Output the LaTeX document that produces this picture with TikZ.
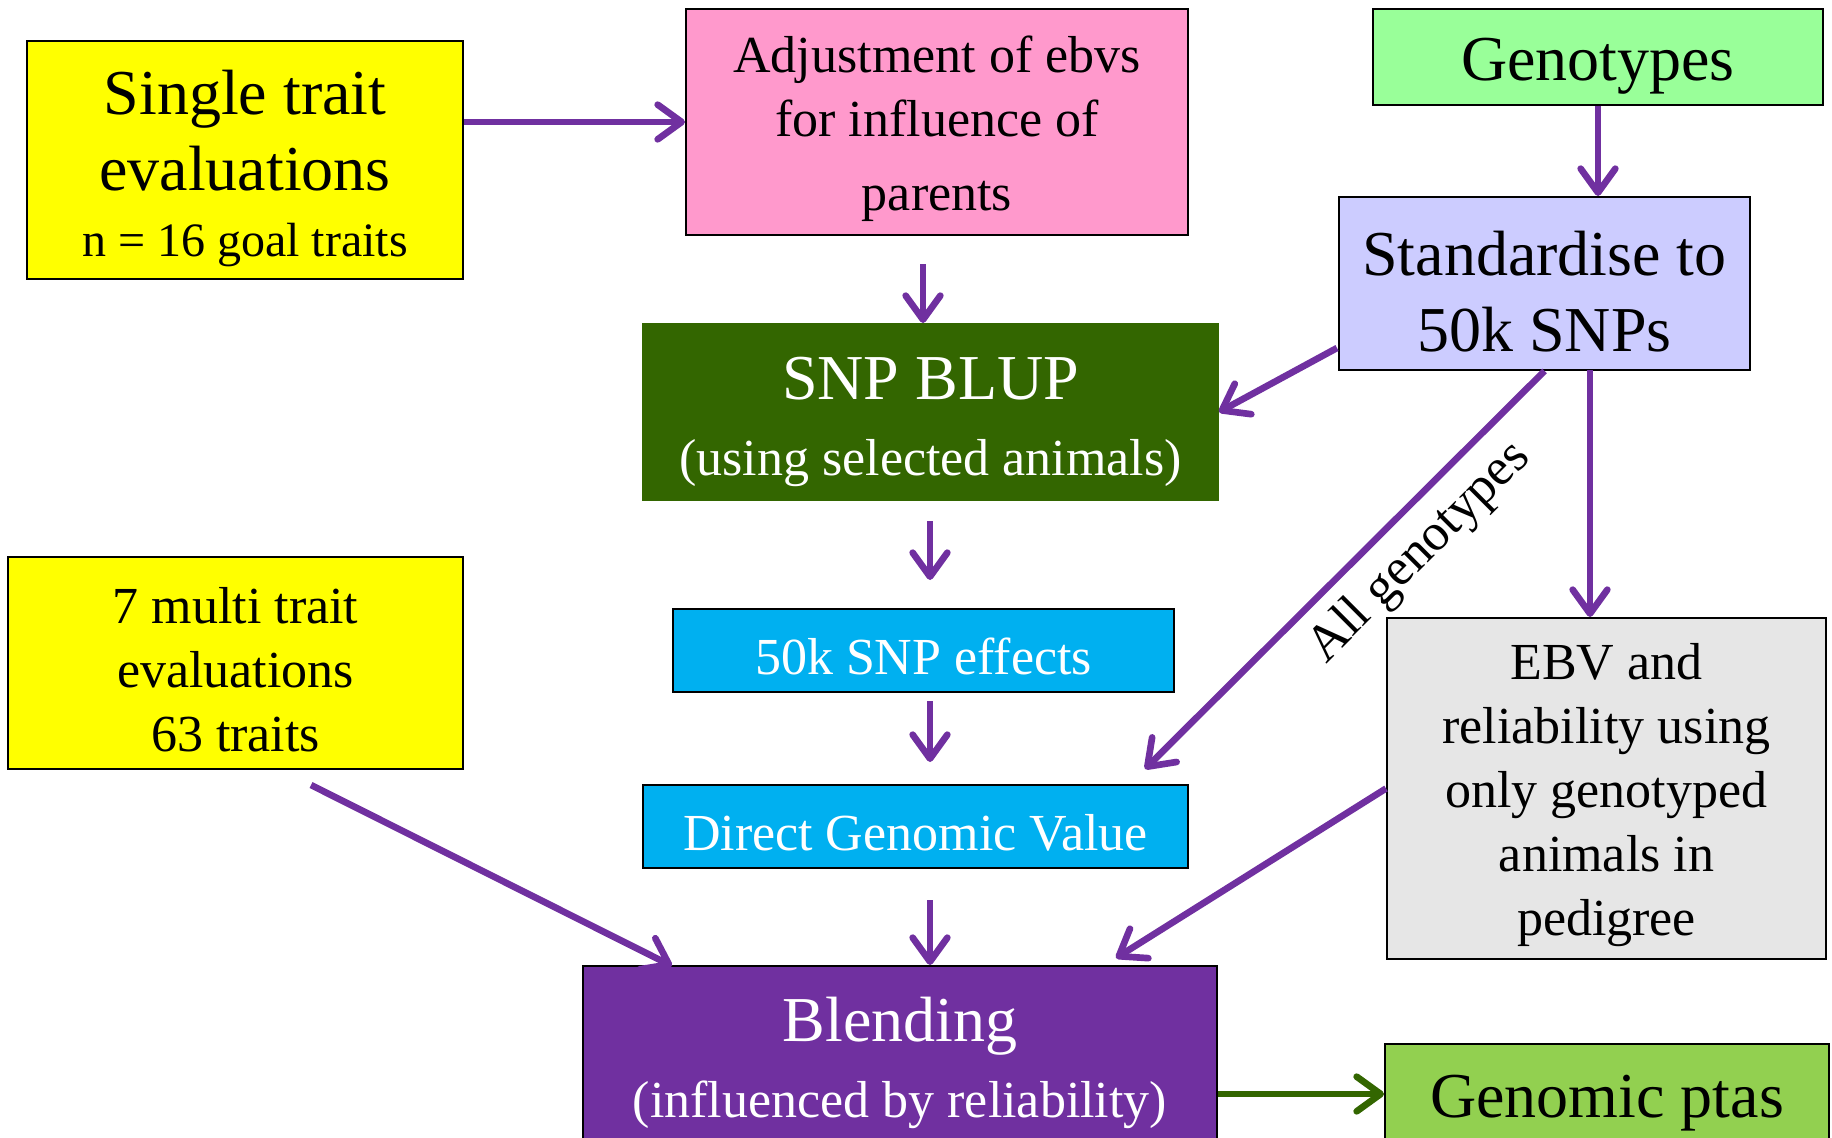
\documentclass[tikz,border=0pt]{standalone}
\usepackage{fontspec}
\setmainfont{Liberation Serif}
\usetikzlibrary{arrows.meta}

\definecolor{arrpurple}{RGB}{112,48,160}
\definecolor{arrgreen}{RGB}{51,102,0}
\definecolor{evalyellow}{RGB}{255,255,0}
\definecolor{adjpink}{RGB}{255,153,204}
\definecolor{genogreen}{RGB}{153,255,153}
\definecolor{standblue}{RGB}{204,204,255}
\definecolor{blupgreen}{RGB}{51,102,0}
\definecolor{dgvcyan}{RGB}{0,176,240}
\definecolor{ebvgray}{RGB}{230,230,230}
\definecolor{blendpurple}{RGB}{112,48,160}
\definecolor{ptasgreen}{RGB}{146,208,80}

\tikzset{every picture/.style={line width=0.75pt}}
\tikzset{
	box/.style={draw=black, line width=1.5pt, align=center, inner sep=0pt},
	bigtxt/.style={font=\fontsize{48}{57}\selectfont},
	medtxt/.style={font=\fontsize{39}{48}\selectfont},
	arr/.style={draw=arrpurple, line width=5pt, -{Straight Barb[length=18pt,width=26pt,round]}},
}
\newcommand{\lowbig}{\rule{0pt}{46pt}}
\newcommand{\lowmed}{\rule{0pt}{37pt}}

\begin{document}
\begin{tikzpicture}[x=0.75pt,y=0.75pt,yscale=-1,xscale=1]
	\useasboundingbox (0,0) rectangle (1832,1138);
	\clip (0,0) rectangle (1832,1138);

	\node [box, bigtxt, fill=evalyellow, minimum width=327pt, minimum height=178.5pt] (single) at (245,160) {\lowbig Single trait\\evaluations\\[-7.5pt]{\fontsize{36}{42}\selectfont n = 16 goal traits}};

	\node [box, medtxt, fill=adjpink, minimum width=376.5pt, minimum height=169.5pt] (adj) at (937,122) {\lowmed Adjustment of ebvs\\for influence of\\[7.5pt]parents};

	\node [box, bigtxt, fill=genogreen, minimum width=337.5pt, minimum height=72pt] (geno) at (1598,57) {\lowbig Genotypes};

	\node [box, bigtxt, fill=standblue, minimum width=308.25pt, minimum height=129.75pt] (stand) at (1544.5,283.5) {\lowbig Standardise to\\50k SNPs};

	\node [box, bigtxt, draw=blupgreen, fill=blupgreen, text=white, minimum width=431.25pt, minimum height=132pt] (blup) at (930.5,412) {\lowbig SNP BLUP\\{\fontsize{39}{48}\selectfont (using selected animals)}};

	\node [box, medtxt, fill=dgvcyan, text=white, minimum width=375.75pt, minimum height=62.25pt] (eff) at (923.5,650.5) {\lowmed 50k SNP effects};

	\node [box, medtxt, fill=dgvcyan, text=white, minimum width=408.75pt, minimum height=62.25pt] (dgv) at (915.5,826.5) {\lowmed Direct Genomic Value};

	\node [box, medtxt, fill=evalyellow, minimum width=341.25pt, minimum height=159pt] (multi) at (235.5,663) {\lowmed 7 multi trait\\evaluations\\63 traits};

	\node [box, medtxt, fill=ebvgray, minimum width=329.25pt, minimum height=255.75pt] (ebv) at (1606.5,788.5) {\lowmed EBV and\\reliability using\\only genotyped\\animals in\\pedigree};

	\node [box, bigtxt, fill=blendpurple, text=white, minimum width=475.5pt, minimum height=145.5pt] (blend) at (900,1063) {Blending\\{\fontsize{39}{48}\selectfont (influenced by reliability)}};

	\node [box, bigtxt, fill=ptasgreen, minimum width=333pt, minimum height=75pt] (ptas) at (1607,1094) {\lowbig Genomic ptas};

	\node [medtxt, rotate=45] (allgeno) at (1420,553) {All genotypes};

	\coordinate (adjout) at (923,264);
	\coordinate (blupout) at (930,521);
	\coordinate (effin) at (930,580);
	\coordinate (effout) at (930,701);
	\coordinate (dgvin) at (930,762);
	\coordinate (dgvout) at (930,900);
	\coordinate (standout) at (1337,348);
	\coordinate (standdown) at (1590,370);
	\coordinate (allin) at (1145,769);
	\coordinate (multiout) at (311,785);
	\coordinate (multiin) at (672,966);
	\coordinate (ebvout) at (1116,958);

	\draw [arr] (single.east |- adj.west) -- (adj.west);
	\draw [arr] (adjout) -- (adjout |- blup.north);
	\draw [arr] (geno.south) -- (geno.south |- stand.north);
	\draw [arr] (standout) -- (blup.east);
	\draw [arr] (blupout) -- (effin);
	\draw [arr] (effout) -- (dgvin);
	\draw [arr] (stand.south) -- (allin);
	\draw [arr] (standdown) -- (standdown |- ebv.north);
	\draw [arr] (dgvout) -- (dgvout |- blend.north);
	\draw [arr] (multiout) -- (multiin);
	\draw [arr] (ebv.west) -- (ebvout);
	\draw [arr, draw=arrgreen] (blend.east |- ptas.west) -- (ptas.west);
\end{tikzpicture}
\end{document}
